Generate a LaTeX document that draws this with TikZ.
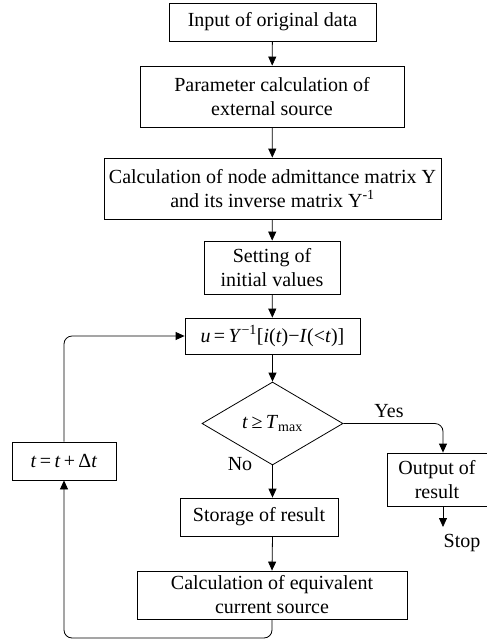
\documentclass[tikz,border=0pt]{standalone}
\usepackage{fontspec}
\setmainfont{Liberation Serif}
\usepackage{tikz}
\usetikzlibrary{shapes,arrows,arrows.meta,positioning}

\begin{document}
\begin{tikzpicture}[x=1pt, y=-1pt]
			\tikzstyle{Box}		= [rectangle, draw, line width=0.8pt, align=center, inner sep=0pt, font=\fontsize{20}{24}\selectfont]
			\tikzstyle{Decision}	= [diamond, draw, line width=0.8pt, inner sep=0pt, font=\fontsize{20}{24}\selectfont]
			\tikzstyle{Label}	= [inner sep=0pt, font=\fontsize{20}{24}\selectfont]
			\tikzstyle{Flow}	= [line width=0.8pt, -{Triangle[length=9pt, width=8pt]}]
			\tikzstyle{Loop}	= [Flow, rounded corners=8pt]

			\useasboundingbox (0,0) rectangle (487,641);

			\node (in) at (272.5, 22) [Box, minimum width=207pt, minimum height=38pt] {Input of original data};
			\node (par) at (272, 96.5) [Box, minimum width=264pt, minimum height=61pt] {Parameter calculation of\\external source};
			\node (adm) at (272.5, 188.5) [Box, minimum width=337pt, minimum height=61pt] {Calculation of node admittance matrix Y\\and its inverse matrix Y\textsuperscript{-1}};
			\node (init) at (272, 267.5) [Box, minimum width=136pt, minimum height=53pt] {Setting of\\initial values};
			\node (upd) at (272.5, 336) [Box, minimum width=175pt, minimum height=36pt] {\textit{u}\,=\,\textit{Y}\textsuperscript{−1}[\textit{i}(\textit{t})−\textit{I}(<\textit{t})]};
			\node (chk) at (272.5, 423.5) [Decision, minimum width=141pt, minimum height=83pt] {\textit{t}\,≥\,\textit{T}\textsubscript{max}};
			\node (sto) at (259, 517) [Box, minimum width=158pt, minimum height=38pt] {Storage of result};
			\node (eqv) at (272, 595) [Box, minimum width=270pt, minimum height=48pt] {Calculation of equivalent\\current source};
			\node (outp) at (437, 479.5) [Box, minimum width=100pt, minimum height=53pt] {Output of\\result};
			\node (inc) at (64, 461) [Box, minimum width=104pt, minimum height=38pt] {\textit{t}\,=\,\textit{t}\,+\,Δ\textit{t}};

			\node (yes) at (389, 411) [Label] {Yes};
			\node (no) at (240, 464) [Label] {No};
			\node (stp) at (462, 543) [Label] {Stop};

			\coordinate (ycol) at (443, 0);
			\coordinate (stopend) at (443, 527);
			\coordinate (lb) at (64, 638);

			\draw [Flow] (in) to (par);
			\draw [Flow] (par) to (adm);
			\draw [Flow] (adm) to (init);
			\draw [Flow] (init) to (upd);
			\draw [Flow] (upd) to (chk);
			\draw [Flow] (chk.south) to (chk.south |- sto.north);
			\draw [Flow] (chk.south |- sto.south) to (eqv.north);

			\draw [Loop] (chk.east) -| (ycol |- outp.north);
			\draw [Flow] (ycol |- outp.south) -- (stopend);

			\draw [Loop] (eqv.south) |- (lb) -- (inc.south);
			\draw [Loop] (inc.north) |- (upd.west);
		\end{tikzpicture}
\end{document}
